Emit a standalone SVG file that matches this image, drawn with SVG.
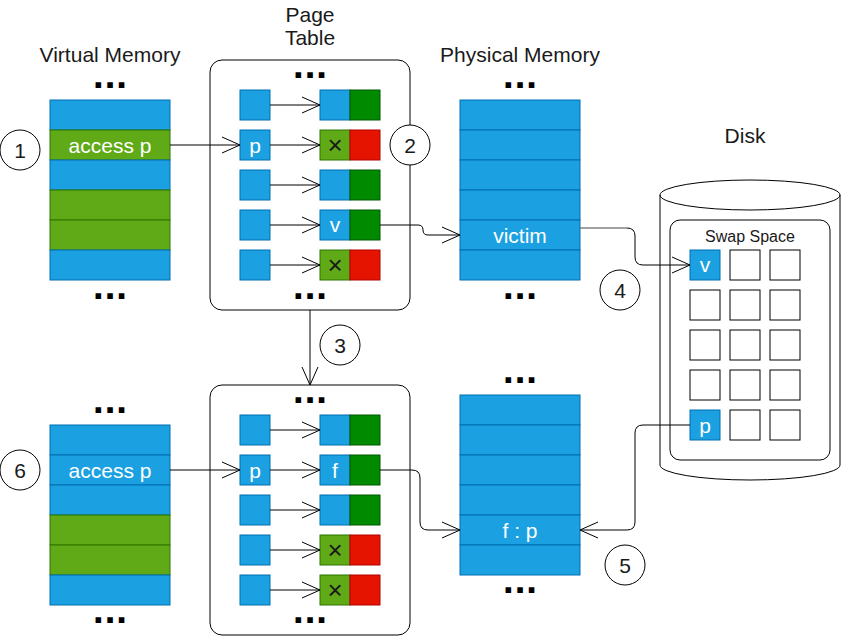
<svg xmlns="http://www.w3.org/2000/svg" width="841" height="636" viewBox="0 0 841 636">
<defs>
<marker id="open" markerUnits="userSpaceOnUse" markerWidth="22" markerHeight="20" refX="18" refY="8" orient="auto" overflow="visible">
<path d="M0,0 L18,8 L0,16" fill="none" stroke="#000" stroke-width="1"/>
</marker>
<style>
.lbl{font-family:"Liberation Sans",Arial,sans-serif;font-size:21px;fill:#1a1a1a;text-anchor:middle}
.wt{font-family:"Liberation Sans",Arial,sans-serif;font-size:21px;fill:#fff;text-anchor:middle}
.dots{font-family:"DejaVu Sans",sans-serif;font-size:20px;font-weight:bold;letter-spacing:4px;fill:#000;stroke:#000;stroke-width:2;text-anchor:middle}
.x{font-family:"Liberation Sans",Arial,sans-serif;font-size:26px;fill:#1a1a1a;text-anchor:middle}
.b{fill:#1ba1e2;stroke:#006eaf;stroke-width:1}
.g{fill:#60a917;stroke:#2d7600;stroke-width:1}
.dg{fill:#008a00;stroke:#005700;stroke-width:1}
.r{fill:#e51400;stroke:#b20000;stroke-width:1}
.w{fill:#fff;stroke:#000;stroke-width:1}
.c{fill:#fff;stroke:#000;stroke-width:1}
.arr{fill:none;stroke:#000;stroke-width:1;marker-end:url(#open)}
</style>
</defs>
<rect width="841" height="636" fill="#fff"/>

<!-- titles -->
<g id="titles">
<text class="lbl" x="110" y="62">Virtual Memory</text>
<text class="lbl" x="310" y="22">Page</text>
<text class="lbl" x="310" y="45">Table</text>
<text class="lbl" x="520" y="62">Physical Memory</text>
<text class="lbl" x="745" y="143">Disk</text>
</g>

<!-- Virtual memory top -->
<g id="vm-top">
<text class="dots" x="112" y="87">...</text>
<rect class="b" x="50" y="100" width="120" height="30"/>
<rect class="g" x="50" y="130" width="120" height="30"/>
<rect class="b" x="50" y="160" width="120" height="30"/>
<rect class="g" x="50" y="190" width="120" height="30"/>
<rect class="g" x="50" y="220" width="120" height="30"/>
<rect class="b" x="50" y="250" width="120" height="30"/>
<text class="wt" x="110" y="152.5">access p</text>
<text class="dots" x="112" y="298">...</text>
</g>

<!-- Page table top -->
<g id="pt-top">
<rect class="w" x="210" y="60" width="200" height="250" rx="12"/>
<text class="dots" x="312" y="77">...</text>
<rect class="b" x="240" y="90" width="30" height="30"/>
<rect class="b" x="320" y="90" width="30" height="30"/><rect class="dg" x="350" y="90" width="30" height="30"/>
<rect class="b" x="240" y="130" width="30" height="30"/><text class="wt" x="255" y="152.5">p</text>
<rect class="g" x="320" y="130" width="30" height="30"/><rect class="r" x="350" y="130" width="30" height="30"/><text class="x" x="335" y="154">×</text>
<rect class="b" x="240" y="170" width="30" height="30"/>
<rect class="b" x="320" y="170" width="30" height="30"/><rect class="dg" x="350" y="170" width="30" height="30"/>
<rect class="b" x="240" y="210" width="30" height="30"/>
<rect class="b" x="320" y="210" width="30" height="30"/><rect class="dg" x="350" y="210" width="30" height="30"/><text class="wt" x="335" y="232">v</text>
<rect class="b" x="240" y="250" width="30" height="30"/>
<rect class="g" x="320" y="250" width="30" height="30"/><rect class="r" x="350" y="250" width="30" height="30"/><text class="x" x="335" y="274">×</text>
<text class="dots" x="312" y="298">...</text>
</g>

<!-- Physical memory top -->
<g id="pm-top">
<text class="dots" x="522" y="87">...</text>
<rect class="b" x="460" y="100" width="120" height="30"/>
<rect class="b" x="460" y="130" width="120" height="30"/>
<rect class="b" x="460" y="160" width="120" height="30"/>
<rect class="b" x="460" y="190" width="120" height="30"/>
<rect class="b" x="460" y="220" width="120" height="30"/>
<rect class="b" x="460" y="250" width="120" height="30"/>
<text class="wt" x="520" y="242.5">victim</text>
<text class="dots" x="522" y="298">...</text>
</g>

<!-- Disk -->
<g id="disk">
<path d="M660,195 A90,15 0 0 1 840,195 L840,465 A90,15 0 0 1 660,465 Z" fill="#fff" stroke="#000" stroke-width="1"/>
<path d="M660,195 A90,15 0 0 0 840,195" fill="none" stroke="#000" stroke-width="1"/>
</g>
<g id="swap-space">
<rect class="w" x="670" y="220" width="160" height="240" rx="10"/>
<text x="750" y="242" style="font-family:'Liberation Sans',Arial,sans-serif;font-size:16px;fill:#1a1a1a;text-anchor:middle">Swap Space</text>
<rect class="b" x="690" y="250" width="30" height="30"/><text class="wt" x="705" y="272">v</text>
<rect class="w" x="730" y="250" width="30" height="30"/><rect class="w" x="770" y="250" width="30" height="30"/>
<rect class="w" x="690" y="290" width="30" height="30"/><rect class="w" x="730" y="290" width="30" height="30"/><rect class="w" x="770" y="290" width="30" height="30"/>
<rect class="w" x="690" y="330" width="30" height="30"/><rect class="w" x="730" y="330" width="30" height="30"/><rect class="w" x="770" y="330" width="30" height="30"/>
<rect class="w" x="690" y="370" width="30" height="30"/><rect class="w" x="730" y="370" width="30" height="30"/><rect class="w" x="770" y="370" width="30" height="30"/>
<rect class="b" x="690" y="410" width="30" height="30"/><text class="wt" x="705" y="432.5">p</text>
<rect class="w" x="730" y="410" width="30" height="30"/><rect class="w" x="770" y="410" width="30" height="30"/>
</g>

<!-- Virtual memory bottom -->
<g id="vm-bottom">
<text class="dots" x="112" y="412">...</text>
<rect class="b" x="50" y="425" width="120" height="30"/>
<rect class="b" x="50" y="455" width="120" height="30"/>
<rect class="b" x="50" y="485" width="120" height="30"/>
<rect class="g" x="50" y="515" width="120" height="30"/>
<rect class="g" x="50" y="545" width="120" height="30"/>
<rect class="b" x="50" y="575" width="120" height="30"/>
<text class="wt" x="110" y="477.5">access p</text>
<text class="dots" x="112" y="622">...</text>
</g>

<!-- Page table bottom -->
<g id="pt-bottom">
<rect class="w" x="210" y="385" width="200" height="250" rx="12"/>
<text class="dots" x="312" y="402">...</text>
<rect class="b" x="240" y="415" width="30" height="30"/>
<rect class="b" x="320" y="415" width="30" height="30"/><rect class="dg" x="350" y="415" width="30" height="30"/>
<rect class="b" x="240" y="455" width="30" height="30"/><text class="wt" x="255" y="477.5">p</text>
<rect class="b" x="320" y="455" width="30" height="30"/><rect class="dg" x="350" y="455" width="30" height="30"/><text class="wt" x="335" y="477.5">f</text>
<rect class="b" x="240" y="495" width="30" height="30"/>
<rect class="b" x="320" y="495" width="30" height="30"/><rect class="dg" x="350" y="495" width="30" height="30"/>
<rect class="b" x="240" y="535" width="30" height="30"/>
<rect class="g" x="320" y="535" width="30" height="30"/><rect class="r" x="350" y="535" width="30" height="30"/><text class="x" x="335" y="559">×</text>
<rect class="b" x="240" y="575" width="30" height="30"/>
<rect class="g" x="320" y="575" width="30" height="30"/><rect class="r" x="350" y="575" width="30" height="30"/><text class="x" x="335" y="599">×</text>
<text class="dots" x="312" y="622">...</text>
</g>

<!-- Physical memory bottom -->
<g id="pm-bottom">
<text class="dots" x="522" y="382">...</text>
<rect class="b" x="460" y="395" width="120" height="30"/>
<rect class="b" x="460" y="425" width="120" height="30"/>
<rect class="b" x="460" y="455" width="120" height="30"/>
<rect class="b" x="460" y="485" width="120" height="30"/>
<rect class="b" x="460" y="515" width="120" height="30"/>
<rect class="b" x="460" y="545" width="120" height="30"/>
<text class="wt" x="520" y="537.5">f : p</text>
<text class="dots" x="522" y="592">...</text>
</g>

<!-- connectors -->
<g id="connectors">
<path class="arr" d="M170,145 L240,145"/>
<path class="arr" d="M270,105 L320,105"/>
<path class="arr" d="M270,145 L320,145"/>
<path class="arr" d="M270,185 L320,185"/>
<path class="arr" d="M270,225 L320,225"/>
<path class="arr" d="M270,265 L320,265"/>
<path class="arr" d="M380,225 L418,225 Q423,225 423,230 Q423,235 428,235 L460,235"/>
<path fill="none" stroke="#808080" stroke-width="1.5" d="M580,228 L627,228"/>
<path class="arr" d="M627,228 Q635,228 635,236 L635,257 Q635,265 643,265 L690,265"/>
<path class="arr" d="M310,310 L310,385"/>
<path class="arr" d="M170,470 L240,470"/>
<path class="arr" d="M270,430 L320,430"/>
<path class="arr" d="M270,470 L320,470"/>
<path class="arr" d="M270,510 L320,510"/>
<path class="arr" d="M270,550 L320,550"/>
<path class="arr" d="M270,590 L320,590"/>
<path class="arr" d="M380,470 L412,470 Q420,470 420,478 L420,522 Q420,530 428,530 L460,530"/>
<path class="arr" d="M690,425 L643,425 Q635,425 635,433 L635,522 Q635,530 627,530 L580,530"/>
</g>

<!-- step markers -->
<g id="step-1"><circle class="c" cx="20" cy="150" r="20"/><text class="lbl" x="20" y="158">1</text></g>
<g id="step-2"><circle class="c" cx="410" cy="145" r="20"/><text class="lbl" x="410" y="153">2</text></g>
<g id="step-3"><circle class="c" cx="340" cy="345" r="20"/><text class="lbl" x="340" y="353">3</text></g>
<g id="step-4"><circle class="c" cx="620" cy="290" r="20"/><text class="lbl" x="620" y="298">4</text></g>
<g id="step-5"><circle class="c" cx="625" cy="565" r="20"/><text class="lbl" x="625" y="573">5</text></g>
<g id="step-6"><circle class="c" cx="20" cy="470" r="20"/><text class="lbl" x="20" y="478">6</text></g>
</svg>
